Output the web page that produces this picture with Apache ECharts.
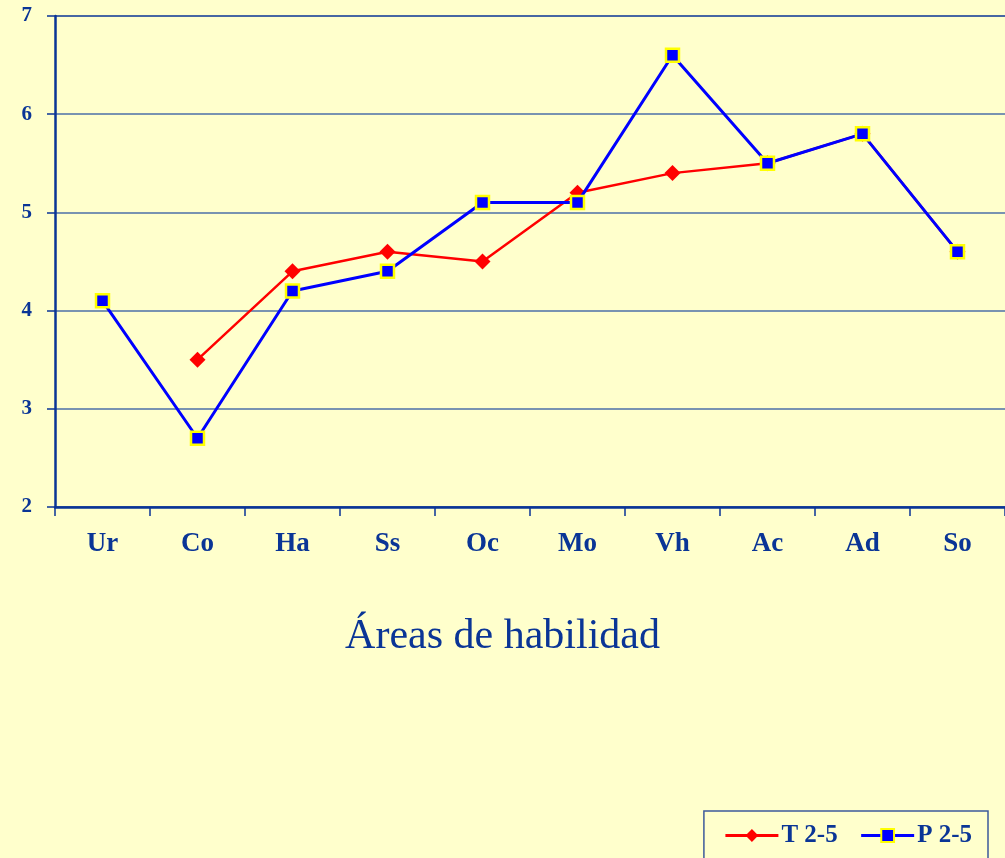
<!DOCTYPE html>
<html>
<head>
<meta charset="utf-8">
<script src="https://cdn.jsdelivr.net/npm/echarts@6/dist/echarts.min.js"></script>
<style>
  html, body { margin: 0; padding: 0; background: #ffffcc; }
  #chart { width: 1005px; height: 858px; }
</style>
</head>
<body>
<div id="chart"></div>
<script>
const categories = ['Ur', 'Co', 'Ha', 'Ss', 'Oc', 'Mo', 'Vh', 'Ac', 'Ad', 'So'];
const seriesNames = ['T 2-5', 'P 2-5'];
const tValues = [null, 3.5, 4.4, 4.6, 4.5, 5.2, 5.4, 5.5, 5.8, 4.6];
const pValues = [4.1, 2.7, 4.2, 4.4, 5.1, 5.1, 6.6, 5.5, 5.8, 4.6];
const titleText = 'Áreas de habilidad';

const navy = '#0a3596';
const serif = 'Liberation Serif';

const chart = echarts.init(document.getElementById('chart'));

const option = {
  backgroundColor: '#ffffcc',
  animation: false,
  title: {
    text: titleText,
    left: 'center',
    top: 611,
    textStyle: { fontFamily: serif, fontSize: 42, fontWeight: 'normal', color: navy }
  },
  legend: {
    top: 811,
    right: 17,
    orient: 'horizontal',
    itemWidth: 53,
    itemHeight: 16,
    itemGap: 22,
    borderColor: '#3d5a9a',
    borderWidth: 1.5,
    padding: [12, 16, 30, 20],
    lineStyle: { width: 3 },
    textStyle: { fontFamily: serif, fontSize: 25, fontWeight: 'bold', color: navy, padding: [0, 0, 0, -2] },
    data: seriesNames
  },
  grid: { left: 55, right: 0, top: 16, bottom: 351, containLabel: false },
  xAxis: {
    type: 'category',
    data: categories,
    boundaryGap: true,
    axisLine: { show: true, lineStyle: { color: navy, width: 2.5 } },
    axisTick: { show: true, alignWithLabel: false, length: 9, lineStyle: { color: navy, width: 1.5 } },
    axisLabel: { margin: 24, fontFamily: serif, fontSize: 27, fontWeight: 'bold', color: navy },
    splitLine: { show: false }
  },
  yAxis: {
    type: 'value',
    min: 2,
    max: 7,
    interval: 1,
    axisLine: { show: true, lineStyle: { color: navy, width: 2.5 } },
    axisTick: { show: true, length: 8, lineStyle: { color: navy, width: 1.5 } },
    axisLabel: { margin: 23, fontFamily: serif, fontSize: 21, fontWeight: 'bold', color: navy },
    splitLine: {
      show: true,
      lineStyle: {
        color: [navy, '#4d6fa8', '#4d6fa8', '#4d6fa8', '#4d6fa8', navy],
        width: 1.5
      }
    }
  },
  series: [
    {
      name: seriesNames[0],
      type: 'line',
      data: tValues,
      connectNulls: false,
      symbol: 'diamond',
      symbolSize: 16,
      lineStyle: { color: '#ff0000', width: 2.5 },
      itemStyle: { color: '#ff0000', borderWidth: 0 },
      z: 2
    },
    {
      name: seriesNames[1],
      type: 'line',
      data: pValues,
      symbol: 'rect',
      symbolSize: 13,
      lineStyle: { color: '#0000ff', width: 3 },
      itemStyle: { color: '#0000ff', borderColor: '#ffff00', borderWidth: 2.5 },
      z: 3
    }
  ]
};

chart.setOption(option);
</script>
</body>
</html>
